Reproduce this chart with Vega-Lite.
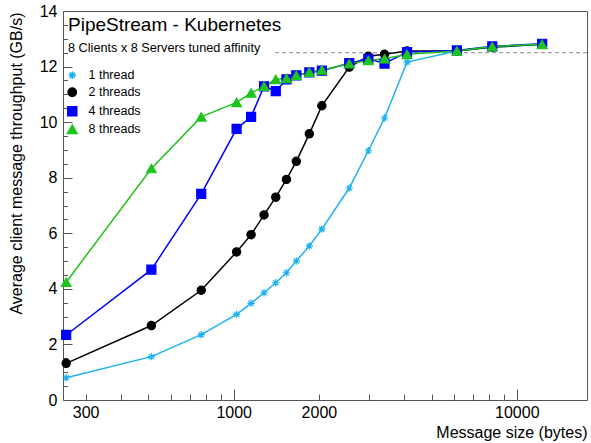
{
  "$schema": "https://vega.github.io/schema/vega-lite/v6.json",
  "width": 524,
  "height": 389,
  "autosize": {"type": "none"},
  "padding": {"left": 63, "top": 11, "right": 4, "bottom": 43},
  "background": "white",
  "config": {
    "font": "Liberation Sans",
    "view": {"stroke": "#555555", "strokeWidth": 1},
    "axis": {"domain": false, "grid": false, "labelFont": "Liberation Sans", "labelFontSize": 16, "labelColor": "black", "tickColor": "#555555", "tickWidth": 1, "titleFont": "Liberation Sans", "titleFontSize": 16, "titleFontWeight": "normal", "titleColor": "black", "labelFlush": false, "labelOverlap": false}
  },
  "title": {
    "text": "PipeStream - Kubernetes",
    "subtitle": "8 Clients x 8 Servers tuned affinity",
    "anchor": "start", "frame": "group", "orient": "top", "offset": -52, "dx": 5,
    "fontSize": 19, "fontWeight": "normal", "font": "Liberation Sans", "color": "black",
    "subtitleFontSize": 12.7, "subtitleColor": "black", "subtitleFont": "Liberation Sans", "subtitlePadding": 7
  },
  "datasets": {
    "ref": [{"xs": 1400, "xe": 17700, "yv": 12.5}],
    "perf": [
      {"series": "1 thread", "size": 256, "gbps": 0.80},
      {"series": "1 thread", "size": 512, "gbps": 1.56},
      {"series": "1 thread", "size": 768, "gbps": 2.35},
      {"series": "1 thread", "size": 1024, "gbps": 3.08},
      {"series": "1 thread", "size": 1152, "gbps": 3.48},
      {"series": "1 thread", "size": 1280, "gbps": 3.86},
      {"series": "1 thread", "size": 1408, "gbps": 4.22},
      {"series": "1 thread", "size": 1536, "gbps": 4.58},
      {"series": "1 thread", "size": 1664, "gbps": 5.0},
      {"series": "1 thread", "size": 1850, "gbps": 5.54},
      {"series": "1 thread", "size": 2048, "gbps": 6.15},
      {"series": "1 thread", "size": 2560, "gbps": 7.63},
      {"series": "1 thread", "size": 2990, "gbps": 8.97},
      {"series": "1 thread", "size": 3410, "gbps": 10.15},
      {"series": "1 thread", "size": 4096, "gbps": 12.16},
      {"series": "1 thread", "size": 6144, "gbps": 12.56},
      {"series": "1 thread", "size": 8192, "gbps": 12.70},
      {"series": "1 thread", "size": 12288, "gbps": 12.80},
      {"series": "2 threads", "size": 256, "gbps": 1.32},
      {"series": "2 threads", "size": 512, "gbps": 2.68},
      {"series": "2 threads", "size": 768, "gbps": 3.95},
      {"series": "2 threads", "size": 1024, "gbps": 5.33},
      {"series": "2 threads", "size": 1152, "gbps": 5.95},
      {"series": "2 threads", "size": 1280, "gbps": 6.66},
      {"series": "2 threads", "size": 1408, "gbps": 7.30},
      {"series": "2 threads", "size": 1536, "gbps": 7.94},
      {"series": "2 threads", "size": 1664, "gbps": 8.59},
      {"series": "2 threads", "size": 1850, "gbps": 9.58},
      {"series": "2 threads", "size": 2048, "gbps": 10.59},
      {"series": "2 threads", "size": 2560, "gbps": 11.98},
      {"series": "2 threads", "size": 2990, "gbps": 12.37},
      {"series": "2 threads", "size": 3410, "gbps": 12.44},
      {"series": "2 threads", "size": 4096, "gbps": 12.56},
      {"series": "2 threads", "size": 6144, "gbps": 12.56},
      {"series": "2 threads", "size": 8192, "gbps": 12.70},
      {"series": "2 threads", "size": 12288, "gbps": 12.80},
      {"series": "4 threads", "size": 256, "gbps": 2.34},
      {"series": "4 threads", "size": 512, "gbps": 4.69},
      {"series": "4 threads", "size": 768, "gbps": 7.42},
      {"series": "4 threads", "size": 1024, "gbps": 9.76},
      {"series": "4 threads", "size": 1152, "gbps": 10.19},
      {"series": "4 threads", "size": 1280, "gbps": 11.29},
      {"series": "4 threads", "size": 1408, "gbps": 11.12},
      {"series": "4 threads", "size": 1536, "gbps": 11.54},
      {"series": "4 threads", "size": 1664, "gbps": 11.68},
      {"series": "4 threads", "size": 1850, "gbps": 11.79},
      {"series": "4 threads", "size": 2048, "gbps": 11.85},
      {"series": "4 threads", "size": 2560, "gbps": 12.12},
      {"series": "4 threads", "size": 2990, "gbps": 12.28},
      {"series": "4 threads", "size": 3410, "gbps": 12.11},
      {"series": "4 threads", "size": 4096, "gbps": 12.52},
      {"series": "4 threads", "size": 6144, "gbps": 12.58},
      {"series": "4 threads", "size": 8192, "gbps": 12.73},
      {"series": "4 threads", "size": 12288, "gbps": 12.82},
      {"series": "8 threads", "size": 256, "gbps": 4.24},
      {"series": "8 threads", "size": 512, "gbps": 8.33},
      {"series": "8 threads", "size": 768, "gbps": 10.19},
      {"series": "8 threads", "size": 1024, "gbps": 10.71},
      {"series": "8 threads", "size": 1152, "gbps": 11.05},
      {"series": "8 threads", "size": 1280, "gbps": 11.29},
      {"series": "8 threads", "size": 1408, "gbps": 11.54},
      {"series": "8 threads", "size": 1536, "gbps": 11.57},
      {"series": "8 threads", "size": 1664, "gbps": 11.68},
      {"series": "8 threads", "size": 1850, "gbps": 11.80},
      {"series": "8 threads", "size": 2048, "gbps": 11.88},
      {"series": "8 threads", "size": 2560, "gbps": 12.10},
      {"series": "8 threads", "size": 2990, "gbps": 12.22},
      {"series": "8 threads", "size": 3410, "gbps": 12.28},
      {"series": "8 threads", "size": 4096, "gbps": 12.44},
      {"series": "8 threads", "size": 6144, "gbps": 12.56},
      {"series": "8 threads", "size": 8192, "gbps": 12.72},
      {"series": "8 threads", "size": 12288, "gbps": 12.80}
    ]
  },
  "resolve": {"axis": {"x": "independent", "y": "independent"}},
  "layer": [
    {
      "data": {"name": "ref"},
      "mark": {"type": "rule", "strokeDash": [4, 3], "color": "#888888", "strokeWidth": 1},
      "encoding": {
        "x": {"field": "xs", "type": "quantitative", "scale": {"type": "log", "domain": [249.5, 17700]},
          "axis": {"orient": "bottom", "values": [300, 1000, 2000, 10000], "format": "d", "ticks": false, "labelPadding": 4,
            "title": "Message size (bytes)", "titleX": 524, "titleY": 37, "titleAlign": "right", "titleBaseline": "alphabetic", "titleAnchor": null}},
        "x2": {"field": "xe"},
        "y": {"field": "yv", "type": "quantitative", "scale": {"domain": [0, 14]},
          "axis": {"orient": "left", "values": [0, 2, 4, 6, 8, 10, 12, 14], "ticks": false, "labelPadding": 6,
            "title": "Average client message throughput (GB/s)", "titleX": -47, "titleY": 1, "titleAngle": -90, "titleAlign": "right", "titleBaseline": "middle", "titleAnchor": null}}
      }
    },
    {
      "data": {"name": "perf"},
      "transform": [{"filter": "datum.series === '1 thread'"}],
      "mark": {"type": "line", "strokeWidth": 1.5, "color": "#1db1ef"},
      "encoding": {
        "x": {"field": "size", "type": "quantitative", "scale": {"type": "log", "domain": [249.5, 17700]},
          "axis": {"orient": "bottom", "values": [1000, 10000], "labels": false, "tickSize": -11, "title": null}},
        "y": {"field": "gbps", "type": "quantitative", "scale": {"domain": [0, 14]},
          "axis": {"orient": "left", "values": [0, 2, 4, 6, 8, 10, 12, 14], "labels": false, "tickSize": -9, "title": null}}
      }
    },
    {
      "data": {"name": "perf"},
      "transform": [{"filter": "datum.series === '2 threads'"}],
      "mark": {"type": "line", "strokeWidth": 1.5, "color": "#000000"},
      "encoding": {
        "x": {"field": "size", "type": "quantitative", "scale": {"type": "log", "domain": [249.5, 17700]}, "axis": null},
        "y": {"field": "gbps", "type": "quantitative", "scale": {"domain": [0, 14]}, "axis": null}
      }
    },
    {
      "data": {"name": "perf"},
      "transform": [{"filter": "datum.series === '4 threads'"}],
      "mark": {"type": "line", "strokeWidth": 1.5, "color": "#0000ff"},
      "encoding": {
        "x": {"field": "size", "type": "quantitative", "scale": {"type": "log", "domain": [249.5, 17700]}, "axis": null},
        "y": {"field": "gbps", "type": "quantitative", "scale": {"domain": [0, 14]}, "axis": null}
      }
    },
    {
      "data": {"name": "perf"},
      "transform": [{"filter": "datum.series === '8 threads'"}],
      "mark": {"type": "line", "strokeWidth": 1.5, "color": "#1ec31e"},
      "encoding": {
        "x": {"field": "size", "type": "quantitative", "scale": {"type": "log", "domain": [249.5, 17700]}, "axis": null},
        "y": {"field": "gbps", "type": "quantitative", "scale": {"domain": [0, 14]}, "axis": null}
      }
    },
    {
      "data": {"name": "perf"},
      "mark": {"type": "point", "filled": true, "opacity": 1, "strokeWidth": 1.2},
      "encoding": {
        "x": {"field": "size", "type": "quantitative", "scale": {"type": "log", "domain": [249.5, 17700]},
          "axis": {"orient": "bottom", "values": [300, 400, 500, 600, 700, 800, 900, 2000, 3000, 4000, 5000, 6000, 7000, 8000, 9000], "labels": false, "tickSize": -6, "title": null}},
        "y": {"field": "gbps", "type": "quantitative", "scale": {"domain": [0, 14]},
          "axis": {"orient": "left", "values": [0.5, 1, 1.5, 2.5, 3, 3.5, 4.5, 5, 5.5, 6.5, 7, 7.5, 8.5, 9, 9.5, 10.5, 11, 11.5, 12.5, 13, 13.5], "labels": false, "tickSize": -4.5, "title": null}},
        "fill": {"field": "series", "type": "nominal",
          "scale": {"domain": ["1 thread", "2 threads", "4 threads", "8 threads"], "range": ["#1db1ef", "#000000", "#0000ff", "#1ec31e"]},
          "legend": {"title": null, "orient": "none", "legendX": 3, "legendY": 58, "padding": 0, "labelFontSize": 12.5, "labelFont": "Liberation Sans", "labelColor": "black", "labelOffset": 10, "rowPadding": 3}},
        "stroke": {"field": "series", "type": "nominal",
          "scale": {"domain": ["1 thread", "2 threads", "4 threads", "8 threads"], "range": ["#1db1ef", "#000000", "#0000ff", "#1ec31e"]}},
        "shape": {"field": "series", "type": "nominal",
          "scale": {"domain": ["1 thread", "2 threads", "4 threads", "8 threads"], "range": ["M0,-1L0,1M-1,0L1,0M-0.7,-0.7L0.7,0.7M-0.7,0.7L0.7,-0.7", "circle", "square", "triangle-up"]}},
        "size": {"field": "series", "type": "nominal",
          "scale": {"domain": ["1 thread", "2 threads", "4 threads", "8 threads"], "range": [55, 95, 90, 110]}}
      }
    }
  ]
}
